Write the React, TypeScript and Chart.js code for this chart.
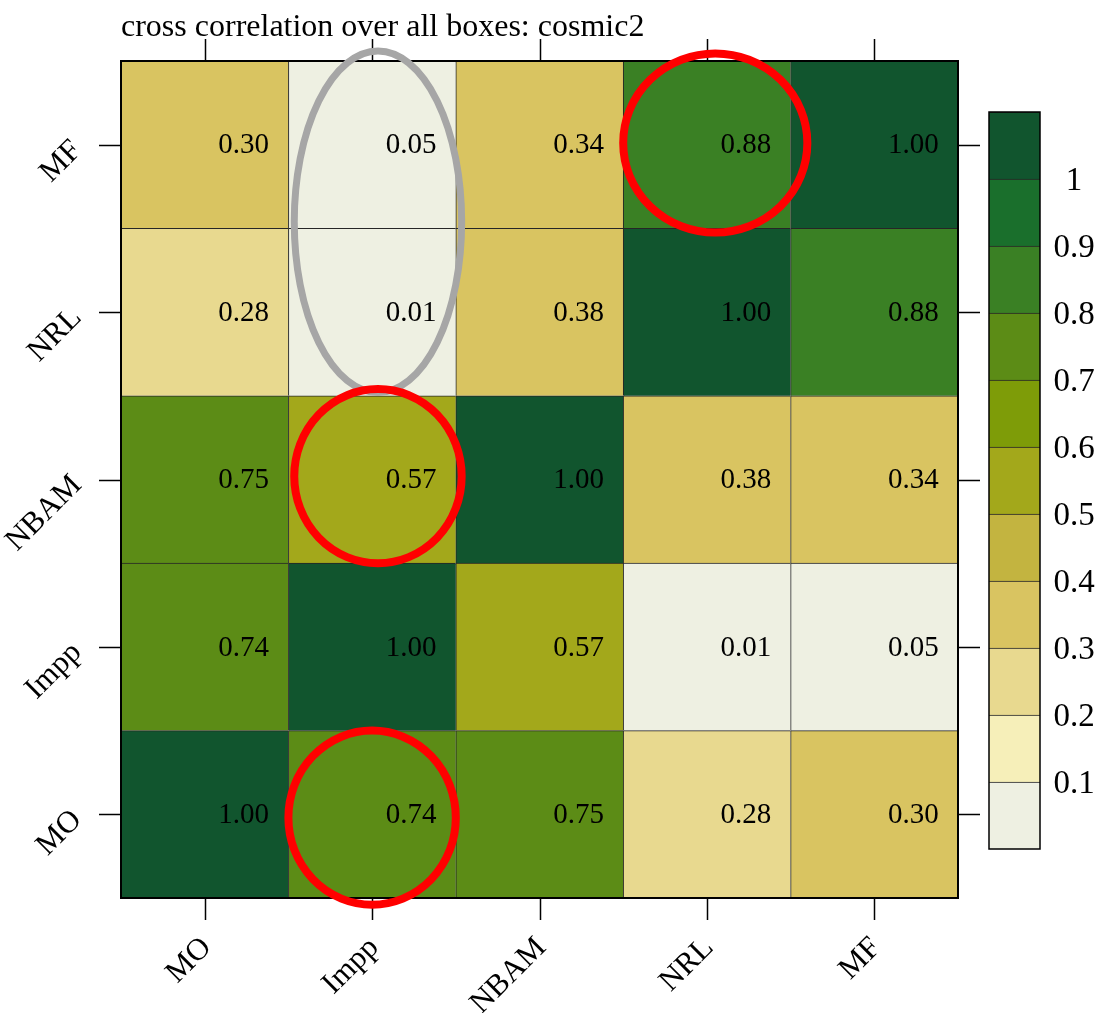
import React, { useEffect, useRef } from 'react';
import { Chart, registerables } from 'chart.js';

Chart.register(...registerables);

// ---- data ----
const models = ['MO', 'Impp', 'NBAM', 'NRL', 'MF'];
const rowMO = [1.0, 0.74, 0.75, 0.28, 0.3];
const rowImpp = [0.74, 1.0, 0.57, 0.01, 0.05];
const rowNBAM = [0.75, 0.57, 1.0, 0.38, 0.34];
const rowNRL = [0.28, 0.01, 0.38, 1.0, 0.88];
const rowMF = [0.3, 0.05, 0.34, 0.88, 1.0];
const matrixRows = [rowMO, rowImpp, rowNBAM, rowNRL, rowMF];

const colorBreaks = [0, 0.1, 0.2, 0.3, 0.4, 0.5, 0.6, 0.7, 0.8, 0.9, 1.0, 1.1];
const colorbarTicks = [0.1, 0.2, 0.3, 0.4, 0.5, 0.6, 0.7, 0.8, 0.9, 1.0];
const binColors = [
  '#eef0e2', '#f6efb9', '#e8d98f', '#d9c461', '#c3b440', '#a3a81b',
  '#7e9c08', '#5c8c16', '#3a8024', '#1a6f2c', '#11552e',
];
const titleText = 'cross correlation over all boxes: cosmic2';

// annotation marks (in cell units)
const redMarks = [
  { col: 'NRL', row: 'MF', dx: 0.05, dy: -0.01, rx: 0.55, ry: 0.535 },
  { col: 'Impp', row: 'NBAM', dx: 0.035, dy: -0.02, rx: 0.5, ry: 0.52 },
  { col: 'Impp', row: 'MO', dx: 0.0, dy: 0.02, rx: 0.5, ry: 0.52 },
];
const grayMarks = [{ col: 'Impp', row: 'NRL', dx: 0.035, dy: -0.54, rx: 0.5, ry: 1.02 }];

const SERIF = '"Liberation Serif", "DejaVu Serif", serif';

function binColor(v: number) {
  let idx = Math.floor(v * 10 + 1e-9);
  if (idx < 0) idx = 0;
  if (idx > binColors.length - 1) idx = binColors.length - 1;
  return binColors[idx];
}

const mainPlugin = {
  id: 'heatDecor',
  afterDatasetsDraw(chart: any) {
    const { ctx, chartArea } = chart;
    const xs = chart.scales.x;
    const ys = chart.scales.y;
    const { left, right, top, bottom } = chartArea;
    const cw = (right - left) / models.length;
    const ch = (bottom - top) / models.length;
    ctx.save();

    // cell values
    ctx.fillStyle = '#000';
    ctx.font = `29px ${SERIF}`;
    ctx.textAlign = 'center';
    ctx.textBaseline = 'middle';
    matrixRows.forEach((row, j) => {
      row.forEach((v, i) => {
        const px = xs.getPixelForValue(i);
        const py = ys.getPixelForValue(j);
        ctx.fillText(v.toFixed(2), px + 39, py + 1);
      });
    });

    // frame
    ctx.strokeStyle = '#000';
    ctx.lineWidth = 2;
    ctx.strokeRect(left, top, right - left, bottom - top);

    // ticks
    ctx.lineWidth = 1.5;
    ctx.beginPath();
    models.forEach((_, i) => {
      const px = Math.round(xs.getPixelForValue(i)) + 0.5;
      ctx.moveTo(px, bottom);
      ctx.lineTo(px, bottom + 22);
      ctx.moveTo(px, top);
      ctx.lineTo(px, top - 22);
      const py = Math.round(ys.getPixelForValue(i)) + 0.5;
      ctx.moveTo(left, py);
      ctx.lineTo(left - 22, py);
      ctx.moveTo(right, py);
      ctx.lineTo(right + 22, py);
    });
    ctx.stroke();

    // axis labels (rotated 45deg)
    ctx.font = `31px ${SERIF}`;
    ctx.textAlign = 'right';
    ctx.textBaseline = 'middle';
    models.forEach((m, i) => {
      const px = xs.getPixelForValue(i);
      ctx.save();
      ctx.translate(px + 2, bottom + 45);
      ctx.rotate(-Math.PI / 4);
      ctx.fillText(m, 0, 0);
      ctx.restore();
      const py = ys.getPixelForValue(i);
      ctx.save();
      ctx.translate(left - 44, py + 1);
      ctx.rotate(-Math.PI / 4);
      ctx.fillText(m, 0, 0);
      ctx.restore();
    });

    // title
    ctx.font = `32px ${SERIF}`;
    ctx.textAlign = 'left';
    ctx.textBaseline = 'alphabetic';
    ctx.fillText(titleText, left, 36);

    // annotation ellipses
    const drawMark = (mk: any, color: string, lw: number) => {
      const ci = models.indexOf(mk.col);
      const ri = models.indexOf(mk.row);
      const cx = xs.getPixelForValue(ci) + mk.dx * cw;
      const cy = ys.getPixelForValue(ri) + mk.dy * ch;
      ctx.beginPath();
      ctx.ellipse(cx, cy, mk.rx * cw, mk.ry * ch, 0, 0, Math.PI * 2);
      ctx.strokeStyle = color;
      ctx.lineWidth = lw;
      ctx.stroke();
    };
    grayMarks.forEach((mk) => drawMark(mk, '#a6a6a6', 7));
    redMarks.forEach((mk) => drawMark(mk, '#ff0000', 8));

    ctx.restore();
  },
};

const colorbarPlugin = {
  id: 'cbDecor',
  afterDatasetsDraw(chart: any) {
    const { ctx, chartArea } = chart;
    const ys = chart.scales.y;
    const { left, right, top, bottom } = chartArea;
    ctx.save();
    ctx.strokeStyle = '#000';
    ctx.lineWidth = 1.5;
    ctx.strokeRect(left, top, right - left, bottom - top);
    ctx.fillStyle = '#000';
    ctx.font = `33px ${SERIF}`;
    ctx.textAlign = 'center';
    ctx.textBaseline = 'middle';
    colorbarTicks.forEach((v) => {
      const py = ys.getPixelForValue(v);
      const label = Math.abs(v - 1) < 1e-9 ? '1' : v.toFixed(1);
      ctx.fillText(label, 94, py + 2);
    });
    ctx.restore();
  },
};

export default function App() {
  const mainRef = useRef<HTMLCanvasElement | null>(null);
  const cbRef = useRef<HTMLCanvasElement | null>(null);

  useEffect(() => {
    document.body.style.margin = '0';
    if (!mainRef.current || !cbRef.current) return;

    const datasets = matrixRows.map((row, j) => ({
      label: models[j],
      data: row.map(() => [j - 0.5, j + 0.5]),
      backgroundColor: row.map((v) => binColor(v)),
      borderColor: '#262626',
      borderWidth: { left: 1, top: 1, right: 0, bottom: 0 },
      borderSkipped: false,
      grouped: false,
      barPercentage: 1,
      categoryPercentage: 1,
    }));

    const main = new Chart(mainRef.current, {
      type: 'bar',
      data: { labels: models, datasets: datasets as any },
      options: {
        animation: false,
        responsive: false,
        devicePixelRatio: 1,
        layout: { padding: { left: 121, right: 143, top: 61, bottom: 115 } },
        plugins: {
          legend: { display: false },
          tooltip: { enabled: false },
          title: { display: false },
        },
        scales: {
          x: { type: 'category', display: false, offset: true },
          y: { type: 'linear', display: false, min: -0.5, max: 4.5 },
        },
      },
      plugins: [mainPlugin],
    });

    const cbDatasets = binColors.map((c, k) => ({
      label: String(k),
      data: [[colorBreaks[k], colorBreaks[k + 1]]],
      backgroundColor: c,
      borderColor: '#262626',
      borderWidth: { left: 0, top: 1, right: 0, bottom: 0 },
      borderSkipped: false,
      grouped: false,
      barPercentage: 1,
      categoryPercentage: 1,
    }));

    const cb = new Chart(cbRef.current, {
      type: 'bar',
      data: { labels: ['key'], datasets: cbDatasets as any },
      options: {
        animation: false,
        responsive: false,
        devicePixelRatio: 1,
        layout: { padding: { left: 9, right: 61, top: 12, bottom: 11 } },
        plugins: {
          legend: { display: false },
          tooltip: { enabled: false },
        },
        scales: {
          x: { type: 'category', display: false, offset: true },
          y: { type: 'linear', display: false, min: colorBreaks[0], max: colorBreaks[colorBreaks.length - 1] },
        },
      },
      plugins: [colorbarPlugin],
    });

    return () => {
      main.destroy();
      cb.destroy();
    };
  }, []);

  return (
    <div style={{ position: 'relative', width: 1101, height: 1013, background: '#fff' }}>
      <canvas ref={mainRef} width={1101} height={1013} style={{ position: 'absolute', left: 0, top: 0 }} />
      <canvas ref={cbRef} width={121} height={760} style={{ position: 'absolute', left: 980, top: 100 }} />
    </div>
  );
}
